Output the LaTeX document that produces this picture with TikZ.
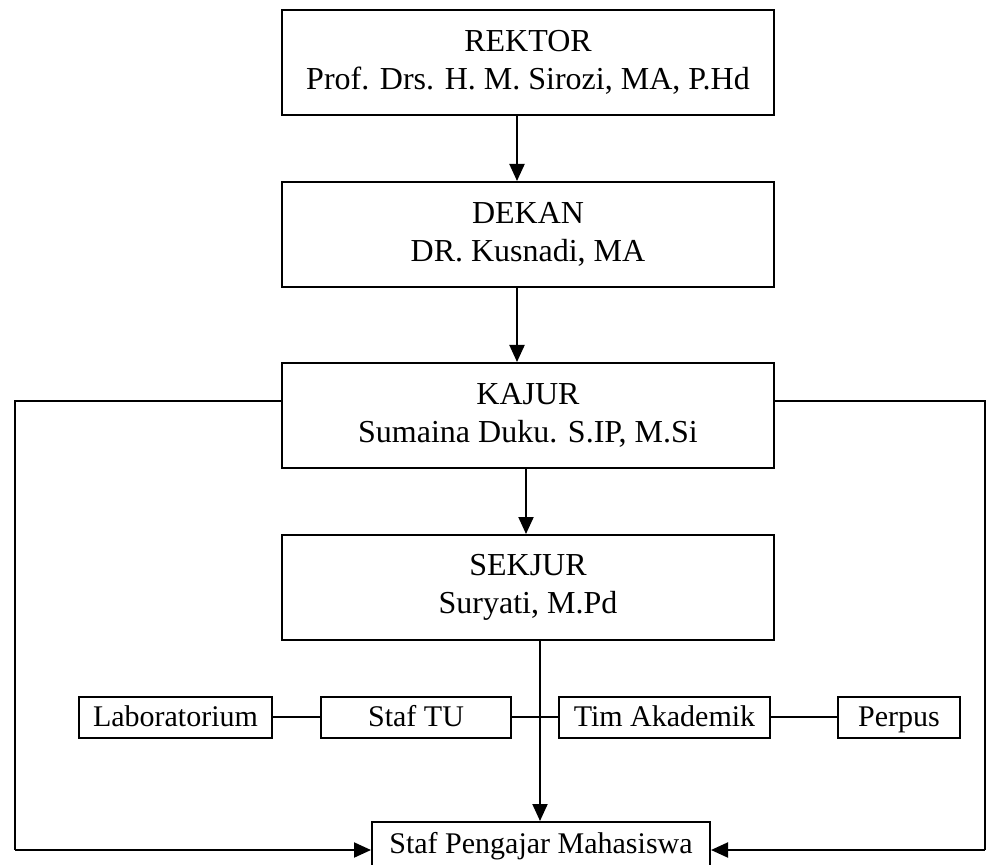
\documentclass[tikz,border=0pt]{standalone}
\usepackage{fontspec}
\setmainfont{Liberation Serif}
\usetikzlibrary{arrows.meta}
\begin{document}
\begin{tikzpicture}[x=0.5pt,y=-0.5pt,
  bigbox/.style={draw,line width=1pt,minimum width=246pt,minimum height=52.5pt,align=center,inner sep=0pt,font=\fontsize{16}{19}\selectfont},
  smallbox/.style={draw,line width=1pt,minimum height=20.5pt,inner sep=0pt,text height=12pt,text depth=3pt,font=\fontsize{15}{18}\selectfont},
  arr/.style={line width=1pt,-{Triangle[width=7.5pt,length=8.5pt]}},
  ln/.style={line width=1pt}]
\useasboundingbox (0,0) rectangle (988,865);
\node[bigbox] (rektor) at (528,62.5) {REKTOR\\Prof. Drs. H. M. Sirozi, MA, P.Hd};
\node[bigbox] (dekan) at (528,234.5) {DEKAN\\DR. Kusnadi, MA};
\node[bigbox] (kajur) at (528,415.5) {KAJUR\\Sumaina Duku. S.IP, M.Si};
\node[bigbox] (sekjur) at (528,587.5) {SEKJUR\\Suryati, M.Pd};
\node[smallbox,minimum width=96.5pt] (lab) at (175.5,717) {Laboratorium};
\node[smallbox,minimum width=95pt] (stu) at (416,717) {Staf TU};
\node[smallbox,minimum width=105.5pt] (tim) at (664.5,717) {Tim Akademik};
\node[smallbox,minimum width=61pt] (perpus) at (899,717) {Perpus};
\node[smallbox,minimum width=169pt,minimum height=22pt] (spm) at (541,844) {Staf Pengajar Mahasiswa};
\coordinate (j) at (540,717);
\coordinate (lc) at (15,401);
\coordinate (lb) at (15,850);
\coordinate (rc) at (985,401);
\coordinate (rb) at (985,850);
\draw[arr] (517,0 |- rektor.south) -- (517,0 |- dekan.north);
\draw[arr] (517,0 |- dekan.south) -- (517,0 |- kajur.north);
\draw[arr] (526,0 |- kajur.south) -- (526,0 |- sekjur.north);
\draw[arr] (j |- sekjur.south) -- (j |- spm.north);
\draw[ln] (lab.east) -- (stu.west);
\draw[ln] (stu.east) -- (j) -- (tim.west);
\draw[ln] (tim.east) -- (perpus.west);
\draw[ln] (kajur.west |- lc) -- (lc) -- (lb);
\draw[arr] (lb) -- (spm.west |- lb);
\draw[ln] (kajur.east |- rc) -- (rc) -- (rb);
\draw[arr] (rb) -- (spm.east |- rb);
\end{tikzpicture}
\end{document}
